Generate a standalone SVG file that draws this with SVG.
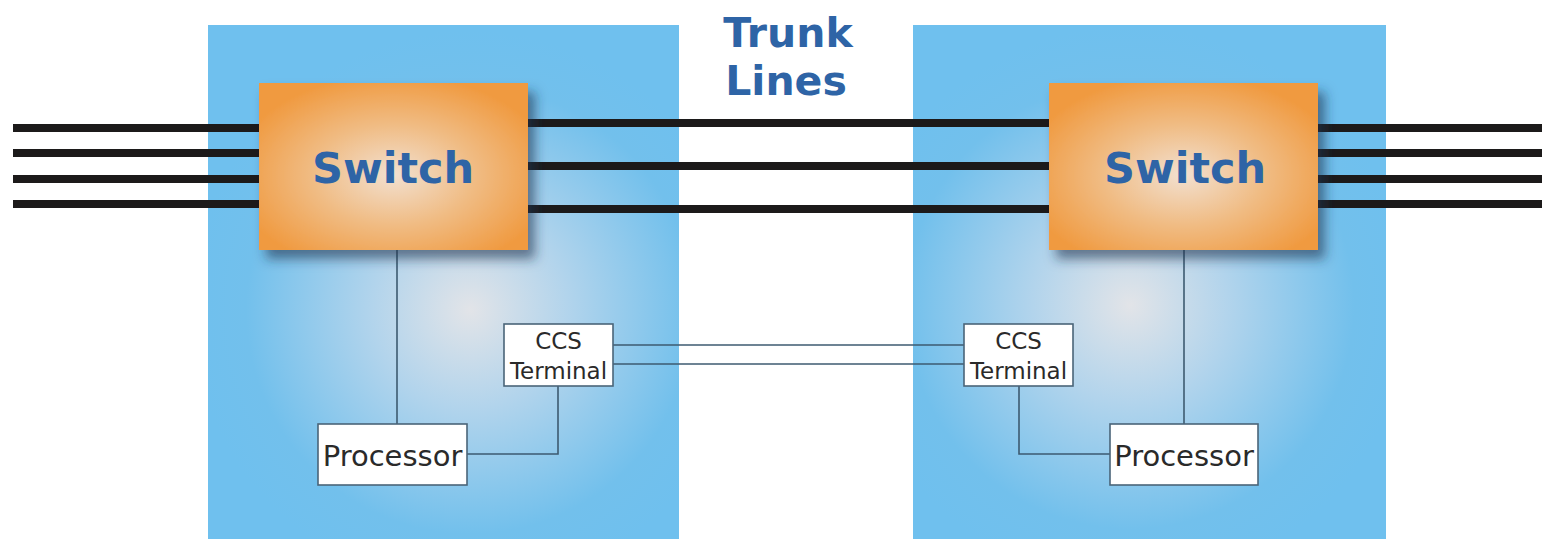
<svg xmlns="http://www.w3.org/2000/svg" width="1542" height="539" viewBox="0 0 1542 539">
<defs>
<radialGradient id="panelL" cx="470" cy="310" r="280" gradientUnits="userSpaceOnUse">
<stop offset="0" stop-color="#e2e4e8"/>
<stop offset="0.35" stop-color="#b2d4ec"/>
<stop offset="0.8" stop-color="#72c0ec"/>
<stop offset="1" stop-color="#6fc0ee"/>
</radialGradient>
<radialGradient id="panelR" cx="1130" cy="305" r="280" gradientUnits="userSpaceOnUse">
<stop offset="0" stop-color="#e2e4e8"/>
<stop offset="0.35" stop-color="#b2d4ec"/>
<stop offset="0.8" stop-color="#72c0ec"/>
<stop offset="1" stop-color="#6fc0ee"/>
</radialGradient>
<radialGradient id="sw" cx="0.5" cy="0.55" r="0.6">
<stop offset="0" stop-color="#f2e0d0"/>
<stop offset="0.5" stop-color="#f0bc84"/>
<stop offset="1" stop-color="#f09a40"/>
</radialGradient>
<filter id="shadow" x="-20%" y="-20%" width="150%" height="150%">
<feDropShadow dx="7" dy="9" stdDeviation="6" flood-color="#203050" flood-opacity="0.6"/>
</filter>
<style>
.thick{stroke:#1c1a1a;stroke-width:8;fill:none}
.thin{stroke:#3d5a70;stroke-width:1.6;fill:none}
.swt{font-family:"DejaVu Sans",Verdana,sans-serif;font-weight:bold;font-size:43px;fill:#2e64a6;text-anchor:middle}
.ttl{font-family:"DejaVu Sans",Verdana,sans-serif;font-weight:bold;font-size:41px;fill:#2e64a6;text-anchor:middle}
.box{fill:#ffffff;stroke:#4a6478;stroke-width:1.6}
.lbl{font-family:"DejaVu Sans",Verdana,sans-serif;fill:#2a2a2a;text-anchor:middle}
</style>
</defs>
<rect width="1542" height="539" fill="#ffffff"/>
<g id="panel-left"><rect x="208" y="25" width="471" height="514" fill="url(#panelL)"/></g>
<g id="panel-right"><rect x="913" y="25" width="473" height="514" fill="url(#panelR)"/></g>
<g id="title"><text class="ttl" x="788" y="47">Trunk</text><text class="ttl" x="786" y="95">Lines</text></g>
<g id="connectors">
<line class="thick" x1="13" y1="128" x2="262" y2="128"/>
<line class="thick" x1="13" y1="153" x2="262" y2="153"/>
<line class="thick" x1="13" y1="179" x2="262" y2="179"/>
<line class="thick" x1="13" y1="204" x2="262" y2="204"/>
<line class="thick" x1="525" y1="123" x2="1052" y2="123"/>
<line class="thick" x1="525" y1="166" x2="1052" y2="166"/>
<line class="thick" x1="525" y1="209" x2="1052" y2="209"/>
<line class="thick" x1="1315" y1="128" x2="1542" y2="128"/>
<line class="thick" x1="1315" y1="153" x2="1542" y2="153"/>
<line class="thick" x1="1315" y1="179" x2="1542" y2="179"/>
<line class="thick" x1="1315" y1="204" x2="1542" y2="204"/>
<line class="thin" x1="397" y1="250" x2="397" y2="424"/>
<polyline class="thin" points="558,386 558,454 467,454"/>
<line class="thin" x1="613" y1="345" x2="964" y2="345"/>
<line class="thin" x1="613" y1="364" x2="964" y2="364"/>
<line class="thin" x1="1184" y1="250" x2="1184" y2="424"/>
<polyline class="thin" points="1019,386 1019,454 1110,454"/>
</g>
<g id="switch-left"><rect x="259" y="83" width="269" height="167" fill="url(#sw)" filter="url(#shadow)"/><text class="swt" x="393" y="183">Switch</text></g>
<g id="switch-right"><rect x="1049" y="83" width="269" height="167" fill="url(#sw)" filter="url(#shadow)"/><text class="swt" x="1185" y="183">Switch</text></g>
<g id="ccs-left"><rect class="box" x="504" y="324" width="109" height="62"/><text class="lbl" font-size="23" x="558.5" y="349">CCS</text><text class="lbl" font-size="23" x="558.5" y="379">Terminal</text></g>
<g id="ccs-right"><rect class="box" x="964" y="324" width="109" height="62"/><text class="lbl" font-size="23" x="1018.5" y="349">CCS</text><text class="lbl" font-size="23" x="1018.5" y="379">Terminal</text></g>
<g id="processor-left"><rect class="box" x="318" y="424" width="149" height="61"/><text class="lbl" font-size="29" x="392.5" y="466">Processor</text></g>
<g id="processor-right"><rect class="box" x="1110" y="424" width="148" height="61"/><text class="lbl" font-size="29" x="1184" y="466">Processor</text></g>
</svg>
